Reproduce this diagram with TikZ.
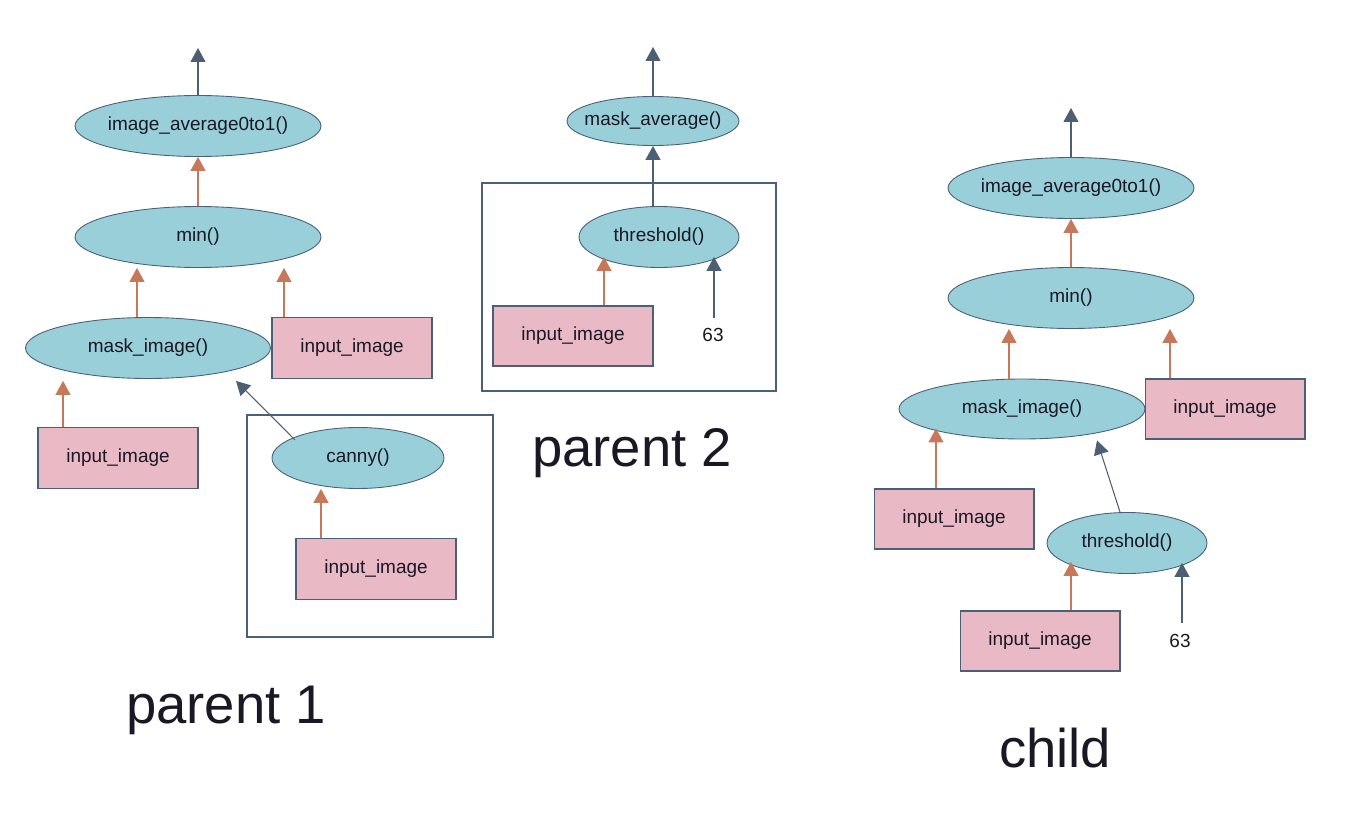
\documentclass[tikz,border=0pt]{standalone}
\usepackage{fontspec}
\setmainfont{Liberation Sans}
\usetikzlibrary{shapes.geometric, arrows.meta, calc}
\definecolor{funcfill}{HTML}{99CFD9}
\definecolor{inputfill}{HTML}{E9B9C5}
\definecolor{edgeblue}{HTML}{4A5F78}
\definecolor{darkarrow}{HTML}{4D6073}
\definecolor{orangearrow}{HTML}{C8785A}
\definecolor{textdark}{HTML}{1A1824}
% keep the text from widening the ellipse
\newcommand{\fname}[1]{\makebox[0pt]{#1}}
\tikzstyle{func} = [ellipse, draw=edgeblue, fill=funcfill, line width=0.5pt, inner sep=0pt, minimum width=4.92cm, minimum height=1.22cm, text=textdark, font=\fontsize{10.8}{13}\selectfont]
\tikzstyle{input} = [rectangle, draw=edgeblue, fill=inputfill, line width=0.6pt, inner sep=0pt, minimum width=3.2cm, minimum height=1.22cm, text=textdark, font=\fontsize{10.8}{13}\selectfont]
\tikzstyle{const} = [inner sep=0pt, text=textdark, font=\fontsize{10.8}{13}\selectfont]
\tikzstyle{frame} = [draw=edgeblue, line width=0.7pt]
\tikzstyle{title} = [inner sep=0pt, text=textdark, font=\fontsize{31}{36}\selectfont]
\tikzstyle{arrow} = [draw=darkarrow, line width=0.6pt, -{Triangle[length=0.28cm, width=0.3cm]}]
\tikzstyle{orarrow} = [arrow, draw=orangearrow]

\begin{document}
\begin{tikzpicture}[x=0.02cm, y=-0.02cm]
        \useasboundingbox (0,0) rectangle (1352,828);

        % parent 1
        \draw [frame] (247,415) rectangle (493,637);
        \node (p1avg) [func] at (198,126) {\fname{image\_average0to1()}};
        \node (p1min) [func] at (198,237) {\fname{min()}};
        \node (p1mask) [func, minimum width=4.9cm] at (148,348) {\fname{mask\_image()}};
        \node (p1in1) [input] at (352,348) {input\_image};
        \node (p1in2) [input] at (118,458) {input\_image};
        \node (p1canny) [func, minimum width=3.44cm] at (358,458) {\fname{canny()}};
        \node (p1in3) [input] at (376,569) {input\_image};
        \coordinate (p1out) at (198,48);
        \node (lbl1) [title] at (226,710) {parent 1};
        \draw [arrow] (p1avg) -- (p1out);
        \draw [orarrow] (p1min) -- (p1avg);
        \draw [orarrow] ($(p1mask.north)+(-11,0)$) -- ($(p1min.south)+(-61,0)$);
        \draw [orarrow] ($(p1in1.north)+(-68,0)$) -- ($(p1min.south)+(86,0)$);
        \draw [orarrow] ($(p1in2.north)+(-55,0)$) -- ($(p1mask.south)+(-85,2)$);
        \draw [arrow] ($(p1canny)+(-63,-18)$) -- ($(p1mask.south)+(88,2)$);
        \draw [orarrow] ($(p1in3.north)+(-55,0)$) -- ($(p1canny.south)+(-37,0)$);

        % parent 2
        \draw [frame] (482,183) rectangle (776,391);
        \node (p2avg) [func, minimum width=3.44cm, minimum height=0.98cm] at (653,121) {\fname{mask\_average()}};
        \node (p2thr) [func, minimum width=3.2cm] at (659,237) {\fname{threshold()}};
        \node (p2in) [input, minimum height=1.2cm] at (573,336) {input\_image};
        \node (p2val) [const] at (713,335) {63};
        \coordinate (p2out) at (653,47);
        \node (lbl2) [title] at (632,453) {parent 2};
        \draw [arrow] (p2avg) -- (p2out);
        \draw [arrow] ($(p2thr.north)+(-6,0)$) -- (p2avg.south);
        \draw [orarrow] ($(p2in.north)+(31,0)$) -- ($(p2thr.south)+(-55,-11)$);
        \draw [arrow] ($(p2val)+(1,-17)$) -- ($(p2thr.south)+(55,-11)$);

        % child
        \node (chavg) [func] at (1071,188) {\fname{image\_average0to1()}};
        \node (chmin) [func] at (1071,298) {\fname{min()}};
        \node (chmask) [func, minimum height=1.2cm] at (1022,409) {\fname{mask\_image()}};
        \node (chin1) [input, minimum height=1.2cm] at (1225,409) {input\_image};
        \node (chin2) [input, minimum height=1.2cm] at (954,519) {input\_image};
        \node (chthr) [func, minimum width=3.2cm] at (1127,543) {\fname{threshold()}};
        \node (chin3) [input, minimum height=1.2cm] at (1040,641) {input\_image};
        \node (chval) [const] at (1180,641) {63};
        \coordinate (chout) at (1071,108);
        \node (lbl3) [title] at (1055,748) {child};
        \draw [arrow] (chavg) -- (chout);
        \draw [orarrow] (chmin) -- (chavg);
        \draw [orarrow] ($(chmask.north)+(-13,0)$) -- ($(chmin.south)+(-62,0)$);
        \draw [orarrow] ($(chin1.north)+(-55,0)$) -- ($(chmin.south)+(99,0)$);
        \draw [orarrow] ($(chin2.north)+(-18,0)$) -- ($(chmask.south)+(-86,-11)$);
        \draw [arrow] ($(chthr.north)+(-7,0)$) -- ($(chmask.south)+(75,1)$);
        \draw [orarrow] ($(chin3.north)+(31,0)$) -- ($(chthr.south)+(-56,-12)$);
        \draw [arrow] ($(chval)+(2,-18)$) -- ($(chthr.south)+(55,-11)$);
      \end{tikzpicture}
\end{document}
